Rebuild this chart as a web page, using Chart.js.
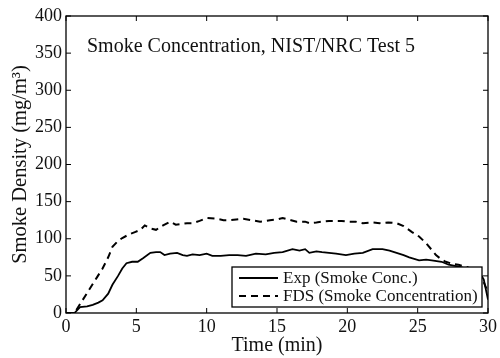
<!DOCTYPE html>
<html>
<head>
<meta charset="utf-8">
<script src="https://cdn.jsdelivr.net/npm/chart.js@4/dist/chart.umd.min.js"></script>
<style>
  html, body { margin: 0; padding: 0; background: #fff; }
  #wrap { width: 500px; height: 358px; position: relative; }
</style>
</head>
<body>
<div id="wrap"><canvas id="smoke"></canvas></div>
<script>
/* ── Smoke Concentration, NIST/NRC Test 5 ── */

const chartTitle = 'Smoke Concentration, NIST/NRC Test 5';
const xTitle = 'Time (min)';
const yTitle = 'Smoke Density (mg/m\u00B3)';
const seriesNames = ['Exp (Smoke Conc.)', 'FDS (Smoke Concentration)'];

// Exp, 实测
const expTime = [0, 0.6, 1.0, 1.5, 1.9, 2.3, 2.6, 3.0, 3.3, 3.7, 4.0, 4.3, 4.7, 5.1, 5.5, 6.0, 6.4, 6.7, 7.0, 7.4,
    7.9, 8.3, 8.6, 9.0, 9.5, 10.0, 10.4, 11.0, 11.6, 12.2, 12.8, 13.5, 14.2, 14.8, 15.4, 16.1, 16.6, 17.0, 17.3, 17.8,
    18.2, 18.7, 19.2, 19.9, 20.5, 21.1, 21.8, 22.5, 23.0, 23.5, 24.0, 24.4, 25.1, 25.6, 26.0, 26.7, 27.2, 28.0, 28.8, 29.4,
    29.7, 30.0];
const expVal = [0, 0, 8, 9, 11, 14, 17, 26, 38, 50, 60, 67, 69, 69, 74, 81, 82, 82, 78, 80,
    81, 78, 77, 79, 78, 80, 77, 77, 78, 78, 77, 80, 79, 81, 82, 86, 84, 86, 81, 83,
    82, 81, 80, 78, 80, 81, 86, 86, 84, 81, 78, 75, 71, 72, 71, 69, 65, 62, 58, 55,
    45, 18];

// FDS, 模拟
const fdsTime = [0, 0.6, 1.0, 1.7, 2.2, 2.6, 3.0, 3.3, 3.7, 4.0, 4.5, 4.9, 5.3, 5.6, 6.0, 6.4, 6.9, 7.4, 7.8, 8.2,
    8.6, 9.0, 9.5, 10.0, 10.7, 11.2, 11.6, 12.1, 12.6, 13.2, 13.8, 14.5, 15.0, 15.4, 16.0, 16.4, 17.0, 17.3, 17.8, 18.2,
    18.7, 19.2, 19.6, 20.1, 20.6, 21.1, 21.7, 22.3, 22.9, 23.5, 24.0, 24.6, 25.1, 25.6, 26.0, 26.3, 26.7, 27.0, 27.5, 27.9,
    28.5, 29.0, 29.5, 30.0];
const fdsVal = [0, 0, 12, 33, 48, 60, 75, 89, 97, 101, 106, 109, 112, 118, 114, 112, 118, 123, 119, 120,
    121, 121, 124, 128, 127, 125, 125, 126, 127, 125, 123, 125, 126, 128, 125, 123, 123, 121, 122, 123,
    124, 124, 124, 123, 123, 121, 122, 121, 122, 121, 117, 109, 103, 94, 85, 78, 72, 69, 66, 65,
    62, 58, 50, 28];

const xTicks = [0, 5, 10, 15, 20, 25, 30];
const yTicks = [0, 50, 100, 150, 200, 250, 300, 350, 400];

const SERIF = '"Liberation Serif", "DejaVu Serif", serif';
const pts = (xs, ys) => xs.map((x, i) => ({ x, y: ys[i] }));

// 外框 + 内向刻度 + 图内标题 + 图例
const framePlugin = {
    id: 'frame',
    afterDatasetsDraw(chart) {
        const { ctx, chartArea: a, scales } = chart;
        const tl = 5;
        ctx.save();
        ctx.strokeStyle = '#000';
        ctx.lineWidth = 1.3;
        ctx.strokeRect(a.left, a.top, a.right - a.left, a.bottom - a.top);
        ctx.lineWidth = 1;
        ctx.beginPath();
        xTicks.forEach(v => {
            const px = scales.x.getPixelForValue(v);
            ctx.moveTo(px, a.bottom); ctx.lineTo(px, a.bottom - tl);
            ctx.moveTo(px, a.top); ctx.lineTo(px, a.top + tl);
        });
        yTicks.forEach(v => {
            const py = scales.y.getPixelForValue(v);
            ctx.moveTo(a.left, py); ctx.lineTo(a.left + tl, py);
            ctx.moveTo(a.right, py); ctx.lineTo(a.right - tl, py);
        });
        ctx.stroke();

        // 标题
        ctx.fillStyle = '#111';
        ctx.font = '20px ' + SERIF;
        ctx.textAlign = 'left';
        ctx.textBaseline = 'alphabetic';
        ctx.fillText(chartTitle, a.left + 21, a.top + 36);

        // 图例
        const lx = 232, ly = 267, lw = 250, lh = 40;
        ctx.fillStyle = '#fff';
        ctx.fillRect(lx, ly, lw, lh);
        ctx.strokeStyle = '#000';
        ctx.lineWidth = 1.3;
        ctx.strokeRect(lx, ly, lw, lh);
        const rows = [ly + 11, ly + 29];
        ctx.lineWidth = 2;
        ctx.beginPath();
        ctx.moveTo(lx + 7, rows[0]); ctx.lineTo(lx + 46, rows[0]);
        ctx.stroke();
        ctx.setLineDash([7, 5]);
        ctx.beginPath();
        ctx.moveTo(lx + 7, rows[1]); ctx.lineTo(lx + 46, rows[1]);
        ctx.stroke();
        ctx.setLineDash([]);
        ctx.fillStyle = '#111';
        ctx.font = '17px ' + SERIF;
        ctx.textBaseline = 'middle';
        seriesNames.forEach((n, i) => ctx.fillText(n, lx + 51, rows[i] + 1));
        ctx.restore();
    },
};

new Chart(document.getElementById('smoke'), {
    type: 'line',
    data: {
        datasets: [
            {
                label: seriesNames[0],
                data: pts(expTime, expVal),
                borderColor: '#000',
                borderWidth: 1.8,
                pointRadius: 0,
                tension: 0,
            },
            {
                label: seriesNames[1],
                data: pts(fdsTime, fdsVal),
                borderColor: '#000',
                borderWidth: 2,
                borderDash: [7, 5],
                pointRadius: 0,
                tension: 0,
            },
        ],
    },
    options: {
        responsive: true,
        maintainAspectRatio: false,
        animation: false,
        layout: { padding: { left: 0, right: 11, top: 16, bottom: 0 } },
        plugins: {
            legend: { display: false },
            tooltip: { enabled: false },
        },
        scales: {
            x: {
                type: 'linear',
                min: 0, max: 30,
                afterBuildTicks: s => { s.ticks = xTicks.map(v => ({ value: v })); },
                afterFit: s => { s.height = 45; },
                grid: { display: false, drawTicks: false },
                border: { display: false },
                ticks: { color: '#111', font: { family: SERIF, size: 18 }, padding: 3, maxRotation: 0 },
                title: { display: true, text: xTitle, color: '#111', font: { family: SERIF, size: 20 }, padding: { top: 0, bottom: 0 } },
            },
            y: {
                min: 0, max: 400,
                afterBuildTicks: s => { s.ticks = yTicks.map(v => ({ value: v })); },
                afterFit: s => { s.width = 66; },
                grid: { display: false, drawTicks: false },
                border: { display: false },
                ticks: { color: '#111', font: { family: SERIF, size: 18 }, padding: 4 },
                title: { display: true, text: yTitle, color: '#111', font: { family: SERIF, size: 20.5 }, padding: { top: 8, bottom: 0 } },
            },
        },
    },
    plugins: [framePlugin],
});
</script>
</body>
</html>
